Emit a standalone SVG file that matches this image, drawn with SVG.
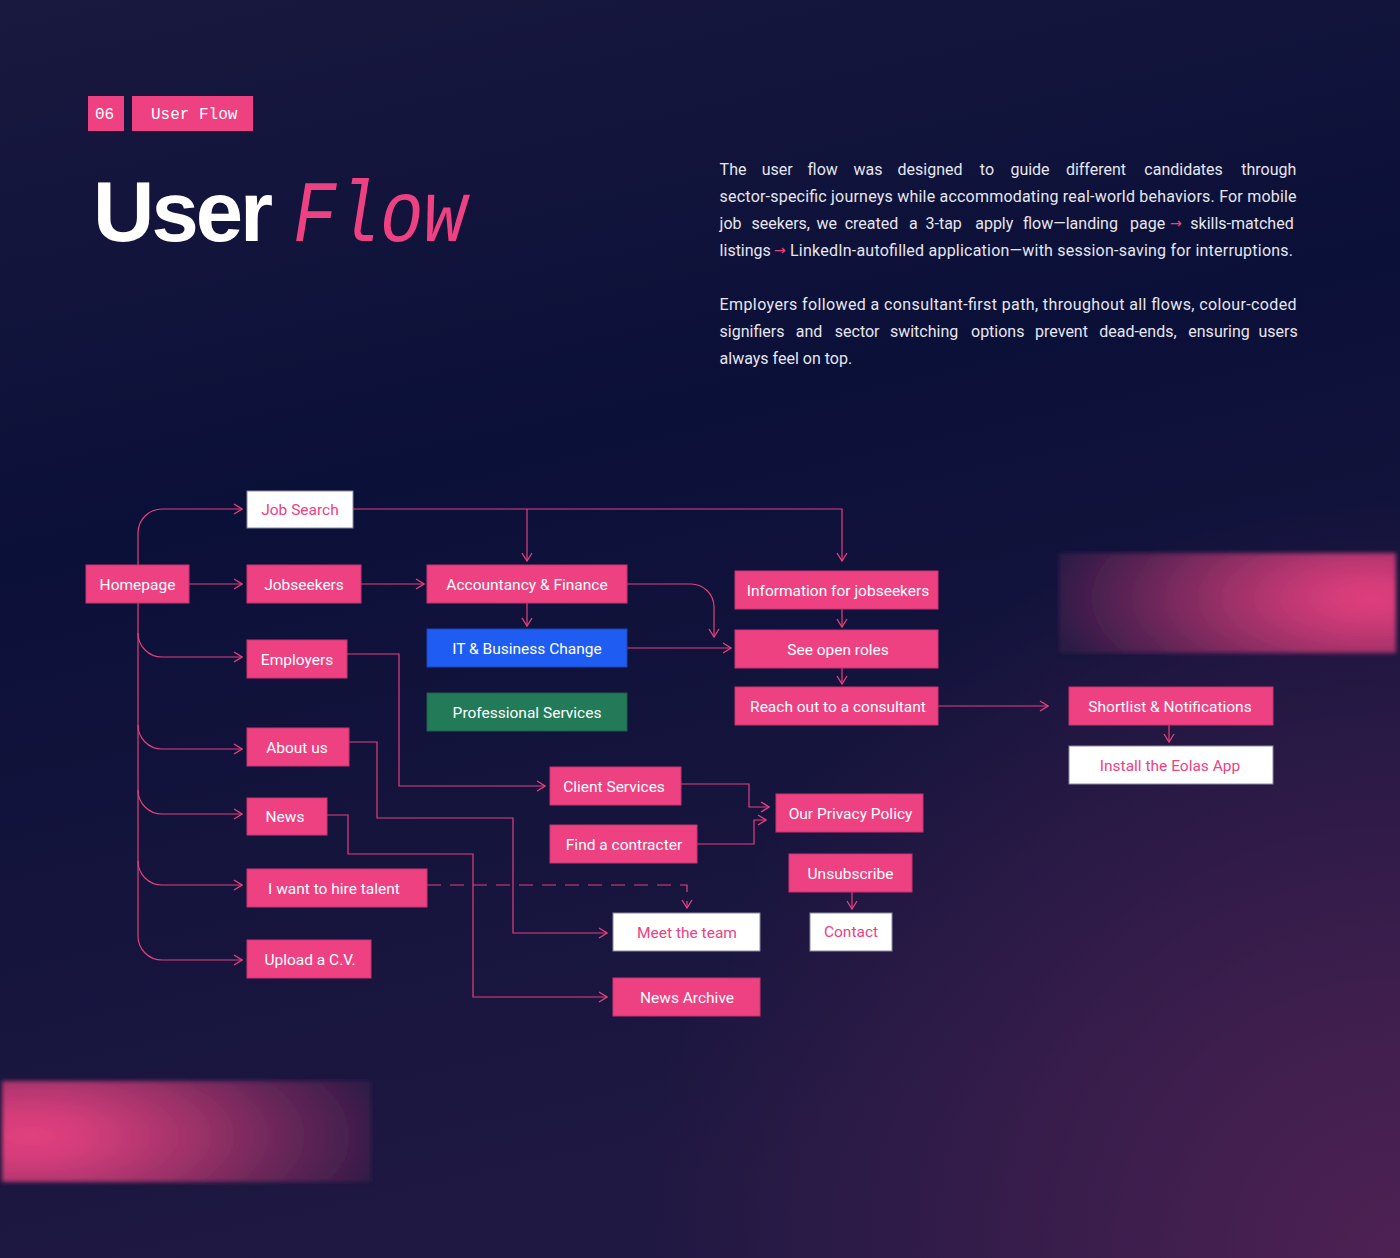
<svg xmlns="http://www.w3.org/2000/svg" width="1400" height="1258" viewBox="0 0 1400 1258">
<defs>
  <linearGradient id="bg" x1="0" y1="0" x2="0.25" y2="1">
    <stop offset="0" stop-color="#19183f"/>
    <stop offset="0.42" stop-color="#0b1038"/>
    <stop offset="1" stop-color="#1f1842"/>
  </linearGradient>
  <radialGradient id="bgGlow" gradientUnits="userSpaceOnUse" cx="1400" cy="1258" r="760">
    <stop offset="0" stop-color="#4e2153" stop-opacity="1"/>
    <stop offset="1" stop-color="#4e2153" stop-opacity="0"/>
  </radialGradient>
  <radialGradient id="glowTR" gradientUnits="userSpaceOnUse" cx="1372" cy="598" r="325" gradientTransform="translate(1372 598) scale(1 0.42) translate(-1372 -598)">
    <stop offset="0" stop-color="#df3e7c"/>
    <stop offset="0.15" stop-color="#d03b78"/>
    <stop offset="0.3" stop-color="#b73670"/>
    <stop offset="0.45" stop-color="#9a3067"/>
    <stop offset="0.6" stop-color="#7c2a5e"/>
    <stop offset="0.75" stop-color="#5d2454"/>
    <stop offset="0.9" stop-color="#401e4c"/>
    <stop offset="1" stop-color="#2a1a45"/>
  </radialGradient>
  <radialGradient id="glowBL" gradientUnits="userSpaceOnUse" cx="30" cy="1136" r="360" gradientTransform="translate(30 1136) scale(1 0.4) translate(-30 -1136)">
    <stop offset="0" stop-color="#e2407e"/>
    <stop offset="0.15" stop-color="#d43d7a"/>
    <stop offset="0.3" stop-color="#ba3872"/>
    <stop offset="0.45" stop-color="#9e3269"/>
    <stop offset="0.6" stop-color="#7f2b5f"/>
    <stop offset="0.75" stop-color="#602556"/>
    <stop offset="0.9" stop-color="#441f4d"/>
    <stop offset="1" stop-color="#2e1a46"/>
  </radialGradient>
  <filter id="soft" x="-5%" y="-10%" width="110%" height="120%">
    <feGaussianBlur stdDeviation="2"/>
  </filter>
  <marker id="arr" markerUnits="userSpaceOnUse" viewBox="0 0 10 12" refX="9" refY="6" markerWidth="10" markerHeight="12" orient="auto">
    <path d="M1,1 L9,6 L1,11" fill="none" stroke="#e8407f" stroke-width="1.3"/>
  </marker>
  <style>
    .pk { fill: #ee4182; stroke: #c93470; stroke-width: 1; }
    .wh { fill: #ffffff; stroke: #8a8aa2; stroke-width: 1; }
    .bl { fill: #1f5cf1; stroke: #1a47b8; stroke-width: 1; }
    .gr { fill: #237a58; stroke: #1d5f48; stroke-width: 1; }
    .lbl { font-family: Roboto, "Liberation Sans", sans-serif; font-size: 15.5px; fill: #ffffff; text-anchor: middle; }
    .lblp { font-family: Roboto, "Liberation Sans", sans-serif; font-size: 15.5px; fill: #ee4182; text-anchor: middle; }
    .ln { fill: none; stroke: #e2407e; stroke-width: 1.2; }
    .para { font-family: Roboto, "Liberation Sans", sans-serif; font-size: 16px; fill: #e6e6ef; }
    .pa { font-family: "DejaVu Sans", sans-serif; font-size: 14px; fill: #ee4182; }
    .mono { font-family: "Liberation Mono", "DejaVu Sans Mono", monospace; font-size: 16px; fill: #ffffff; }
  </style>
</defs>

<rect x="0" y="0" width="1400" height="1258" fill="url(#bg)"/>
<rect x="0" y="0" width="1400" height="1258" fill="url(#bgGlow)"/>

<rect x="1059" y="553" width="337" height="100" fill="url(#glowTR)" filter="url(#soft)"/>
<rect x="2" y="1081" width="369" height="101" fill="url(#glowBL)" filter="url(#soft)"/>

<g id="header">
  <rect x="88" y="96" width="36" height="35" fill="#ee4182"/>
  <text class="mono" x="95" y="119">06</text>
  <rect x="132" y="96" width="121" height="35" fill="#ee4182"/>
  <text class="mono" x="151" y="119">User Flow</text>
  <text x="93" y="241" font-family="'Liberation Sans', Arial, sans-serif" font-weight="bold" font-size="85" letter-spacing="-3" fill="#ffffff">User</text>
  <text x="293" y="241" font-family="'Liberation Mono', 'DejaVu Sans Mono', monospace" font-style="italic" font-size="88" fill="#ee4182" textLength="174" lengthAdjust="spacingAndGlyphs">Flow</text>
</g>

<g id="paragraph" class="para">
  <text y="175"><tspan x="719.6">The</tspan><tspan x="761.7">user</tspan><tspan x="807.6">flow</tspan><tspan x="853.5">was</tspan><tspan x="897.5">designed</tspan><tspan x="979.8">to</tspan><tspan x="1010.4">guide</tspan><tspan x="1065.9">different</tspan><tspan x="1144.3">candidates</tspan><tspan x="1241.2">through</tspan></text>
  <text x="719.6" y="202" textLength="577" lengthAdjust="spacing">sector-specific journeys while accommodating real-world behaviors. For mobile</text>
  <text y="229"><tspan x="719.6">job</tspan><tspan x="751.5">seekers,</tspan><tspan x="816.4">we</tspan><tspan x="844.7">created</tspan><tspan x="909">a</tspan><tspan x="925.5">3-tap</tspan><tspan x="975.2">apply</tspan><tspan x="1023">flow—landing</tspan><tspan x="1130">page</tspan></text>
  <text class="pa" x="1170" y="228">→</text>
  <text x="1190.3" y="229">skills-matched</text>
  <text x="719.6" y="256">listings</text>
  <text class="pa" x="774" y="255">→</text>
  <text x="790" y="256" textLength="503" lengthAdjust="spacing">LinkedIn-autofilled application—with session-saving for interruptions.</text>
  <text x="719.6" y="310" textLength="577" lengthAdjust="spacing">Employers followed a consultant-first path, throughout all flows, colour-coded</text>
  <text y="337"><tspan x="719.6">signifiers</tspan><tspan x="795.7">and</tspan><tspan x="834.8">sector</tspan><tspan x="889.9">switching</tspan><tspan x="971">options</tspan><tspan x="1035.1">prevent</tspan><tspan x="1099.2">dead-ends,</tspan><tspan x="1188.3">ensuring</tspan><tspan x="1258.4">users</tspan></text>
  <text x="719.6" y="364">always feel on top.</text>
</g>

<g id="connectors">
  <path class="ln" d="M138,603 V533 A24,24 0 0 1 162,509 H242" marker-end="url(#arr)"/>
  <path class="ln" d="M189,584 H242" marker-end="url(#arr)"/>
  <path class="ln" d="M138,603 V936 A24,24 0 0 0 162,960 H242" marker-end="url(#arr)"/>
  <path class="ln" d="M138,633 A24,24 0 0 0 162,657 H242" marker-end="url(#arr)"/>
  <path class="ln" d="M138,725 A24,24 0 0 0 162,749 H242" marker-end="url(#arr)"/>
  <path class="ln" d="M138,790 A24,24 0 0 0 162,814 H242" marker-end="url(#arr)"/>
  <path class="ln" d="M138,861 A24,24 0 0 0 162,885 H242" marker-end="url(#arr)"/>
  <path class="ln" d="M353,509 H842 V561" marker-end="url(#arr)"/>
  <path class="ln" d="M527,509 V561" marker-end="url(#arr)"/>
  <path class="ln" d="M361,584 H424" marker-end="url(#arr)"/>
  <path class="ln" d="M527,603 V626" marker-end="url(#arr)"/>
  <path class="ln" d="M627,584 H691 A23,23 0 0 1 714,607 V637" marker-end="url(#arr)"/>
  <path class="ln" d="M627,648 H731" marker-end="url(#arr)"/>
  <path class="ln" d="M842,609 V627" marker-end="url(#arr)"/>
  <path class="ln" d="M842,668 V684" marker-end="url(#arr)"/>
  <path class="ln" d="M938,706 H1048" marker-end="url(#arr)"/>
  <path class="ln" d="M1169,725 V742" marker-end="url(#arr)"/>
  <path class="ln" d="M347,654 H399 V786 H545" marker-end="url(#arr)"/>
  <path class="ln" d="M349,742 H377 V818 H513 V933 H607" marker-end="url(#arr)"/>
  <path class="ln" d="M327,815 H348 V854 H473 V997 H607" marker-end="url(#arr)"/>
  <path class="ln" d="M427,885 H687 V908" stroke-dasharray="14 9" marker-end="url(#arr)"/>
  <path class="ln" d="M681,784 H749 V807 H769" marker-end="url(#arr)"/>
  <path class="ln" d="M697,844 H754 V820 H766" marker-end="url(#arr)"/>
  <path class="ln" d="M852,892 V909" marker-end="url(#arr)"/>
</g>

<g id="homepage"><rect class="pk" x="86" y="565" width="103" height="38"/><text class="lbl" x="137.5" y="589.5">Homepage</text></g>
<g id="job-search"><rect class="wh" x="247" y="491" width="106" height="37"/><text class="lblp" x="300" y="515">Job Search</text></g>
<g id="jobseekers"><rect class="pk" x="247" y="565" width="114" height="38"/><text class="lbl" x="304" y="589.5">Jobseekers</text></g>
<g id="employers"><rect class="pk" x="247" y="640" width="100" height="38"/><text class="lbl" x="297" y="664.5">Employers</text></g>
<g id="about-us"><rect class="pk" x="247" y="728" width="102" height="38"/><text class="lbl" x="297" y="752.5">About us</text></g>
<g id="news"><rect class="pk" x="247" y="798" width="80" height="37"/><text class="lbl" x="285" y="822">News</text></g>
<g id="hire-talent"><rect class="pk" x="247" y="869" width="180" height="38"/><text class="lbl" x="334" y="893.5">I want to hire talent</text></g>
<g id="upload-cv"><rect class="pk" x="247" y="940" width="124" height="38"/><text class="lbl" x="310" y="964.5">Upload a C.V.</text></g>
<g id="accountancy"><rect class="pk" x="427" y="565" width="200" height="38"/><text class="lbl" x="527" y="589.5">Accountancy &amp; Finance</text></g>
<g id="it-business"><rect class="bl" x="427" y="629" width="200" height="38"/><text class="lbl" x="527" y="653.5">IT &amp; Business Change</text></g>
<g id="professional"><rect class="gr" x="427" y="693" width="200" height="38"/><text class="lbl" x="527" y="717.5">Professional Services</text></g>
<g id="info-jobseekers"><rect class="pk" x="735" y="571" width="203" height="38"/><text class="lbl" x="838" y="595.5">Information for jobseekers</text></g>
<g id="see-open-roles"><rect class="pk" x="735" y="630" width="203" height="38"/><text class="lbl" x="838" y="654.5">See open roles</text></g>
<g id="reach-out"><rect class="pk" x="735" y="687" width="203" height="38"/><text class="lbl" x="838" y="711.5">Reach out to a consultant</text></g>
<g id="shortlist"><rect class="pk" x="1069" y="687" width="204" height="38"/><text class="lbl" x="1170" y="711.5">Shortlist &amp; Notifications</text></g>
<g id="install-app"><rect class="wh" x="1069" y="746" width="204" height="38"/><text class="lblp" x="1170" y="770.5">Install the Eolas App</text></g>
<g id="client-services"><rect class="pk" x="550" y="767" width="131" height="38"/><text class="lbl" x="614" y="791.5">Client Services</text></g>
<g id="find-contracter"><rect class="pk" x="550" y="825" width="147" height="38"/><text class="lbl" x="624" y="849.5">Find a contracter</text></g>
<g id="privacy"><rect class="pk" x="776" y="794" width="147" height="38"/><text class="lbl" x="850.5" y="818.5">Our Privacy Policy</text></g>
<g id="unsubscribe"><rect class="pk" x="789" y="854" width="123" height="38"/><text class="lbl" x="850.5" y="878.5">Unsubscribe</text></g>
<g id="contact"><rect class="wh" x="810" y="913" width="82" height="38"/><text class="lblp" x="851" y="936.5">Contact</text></g>
<g id="meet-team"><rect class="wh" x="613" y="913" width="147" height="38"/><text class="lblp" x="687" y="938">Meet the team</text></g>
<g id="news-archive"><rect class="pk" x="613" y="978" width="147" height="38"/><text class="lbl" x="687" y="1003">News Archive</text></g>
</svg>
